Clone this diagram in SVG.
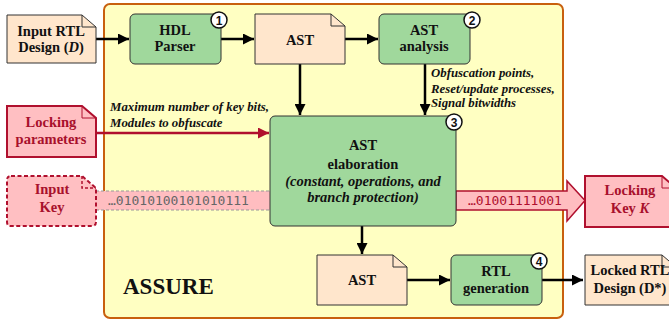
<svg xmlns="http://www.w3.org/2000/svg" width="669" height="326" viewBox="0 0 669 326">
<defs>
<style>
.t{font-family:"Liberation Serif","Times New Roman",serif;font-weight:bold;font-size:14.5px;fill:#111;text-anchor:middle}
.tr{fill:#A8102C}
.it{font-family:"Liberation Serif","Times New Roman",serif;font-weight:bold;font-style:italic;font-size:12.8px;fill:#111}
.doc{fill:#FFE6CC;stroke:#333;stroke-width:1}
.proc{fill:#A0D89C;stroke:#333;stroke-width:1}
.rdoc{fill:#FFBFC2;stroke:#B0102E;stroke-width:2}
.ear{fill:none;stroke:#333;stroke-width:1}
.bad{fill:#fff;stroke:#111;stroke-width:1.5}
.bn{font-family:"Liberation Sans",Arial,sans-serif;font-weight:bold;font-size:12px;text-anchor:middle;fill:#111}
.ar{stroke:#000;stroke-width:2.5;fill:none}
.mono{font-family:"DejaVu Sans Mono","Liberation Mono",monospace;font-size:13px}
</style>
<marker id="ah" viewBox="0 0 10 10" refX="10" refY="5" markerWidth="5" markerHeight="4.4" markerUnits="strokeWidth" orient="auto"><path d="M0,0L10,5L0,10z" fill="#000"/></marker>
<marker id="ahr" viewBox="0 0 10 10" refX="10" refY="5" markerWidth="5" markerHeight="4.4" markerUnits="strokeWidth" orient="auto"><path d="M0,0L10,5L0,10z" fill="#B0102E"/></marker>
</defs>

<g id="assure">
<rect x="104" y="4" width="459" height="314" rx="6" fill="#FFFFC2" stroke="#C8600E" stroke-width="2"/>
<text x="123" y="294" style="font-family:'Liberation Serif','Times New Roman',serif;font-weight:bold;font-size:23px;fill:#111">ASSURE</text>
</g>

<g id="keyband">
<rect x="96" y="191" width="174" height="19" fill="#FFBDC0"/>
<path d="M96,191H270M96,210H270" stroke="#999" stroke-width="1" stroke-dasharray="3,2"/>
<text x="108" y="204.5" class="mono" fill="#666">…01010100101010111</text>
</g>

<g id="keyout">
<path d="M456,191H567V181L585,200.5L567,221V210H456Z" fill="#FFBDC0" stroke="#B0102E" stroke-width="1.5"/>
<text x="468" y="205" class="mono" fill="#B0102E">…01001111001</text>
</g>

<g id="connectors">
<path class="ar" marker-end="url(#ah)" d="M96,39H129"/>
<path class="ar" marker-end="url(#ah)" d="M221,39H254"/>
<path class="ar" marker-end="url(#ah)" d="M345,39H378"/>
<path class="ar" marker-end="url(#ah)" d="M300,64V115"/>
<path class="ar" marker-end="url(#ah)" d="M425,64V115"/>
<path class="ar" marker-end="url(#ah)" d="M362,226V254"/>
<path class="ar" marker-end="url(#ah)" d="M407,280H450"/>
<path class="ar" marker-end="url(#ah)" d="M542,280H583"/>
<path stroke="#B0102E" stroke-width="2.5" fill="none" marker-end="url(#ahr)" d="M96,133H269"/>
<text class="it" x="110" y="111">Maximum number of key bits,</text>
<text class="it" x="110" y="127">Modules to obfuscate</text>
<text class="it" x="431" y="77">Obfuscation points,</text>
<text class="it" x="431" y="93">Reset/update processes,</text>
<text class="it" x="431" y="107">Signal bitwidths</text>
</g>

<g id="input-rtl">
<path class="doc" d="M7,15H82L96,27V63H7Z"/>
<path class="ear" d="M82,15V27H96"/>
<text class="t" x="51" y="36">Input RTL</text>
<text class="t" x="51" y="52">Design (<tspan font-style="italic">D</tspan>)</text>
</g>

<g id="hdl-parser">
<rect class="proc" x="130" y="14" width="91" height="50" rx="5"/>
<text class="t" x="175" y="35">HDL</text>
<text class="t" x="175" y="51">Parser</text>
<circle class="bad" cx="219" cy="20" r="8"/>
<text class="bn" x="219" y="24.5">1</text>
</g>

<g id="ast1">
<path class="doc" d="M255,14H331L345,26V64H255Z"/>
<path class="ear" d="M331,14V26H345"/>
<text class="t" x="300" y="45">AST</text>
</g>

<g id="ast-analysis">
<rect class="proc" x="379" y="14" width="91" height="50" rx="5"/>
<text class="t" x="424" y="35">AST</text>
<text class="t" x="424" y="51">analysis</text>
<circle class="bad" cx="472" cy="20" r="8"/>
<text class="bn" x="472" y="24.5">2</text>
</g>

<g id="locking-params">
<path class="rdoc" d="M7,106H82L96,118V157H7Z"/>
<path d="M82,106V118H96" fill="none" stroke="#B0102E" stroke-width="1"/>
<text class="t tr" x="51" y="127">Locking</text>
<text class="t tr" x="51" y="144">parameters</text>
</g>

<g id="input-key">
<path d="M11,176H82L96,188V222Q96,226 92,226H11Q7,226 7,222V180Q7,176 11,176Z" fill="#FFBFC2" stroke="#B0102E" stroke-width="2" stroke-dasharray="4,2.5"/>
<path d="M82,176V188H96" fill="none" stroke="#B0102E" stroke-width="1.5" stroke-dasharray="3,2"/>
<text class="t tr" x="52" y="194">Input</text>
<text class="t tr" x="52" y="212">Key</text>
</g>

<g id="ast-elaboration">
<rect class="proc" x="270" y="116" width="186" height="110" rx="5"/>
<text class="t" x="363" y="150" font-size="17">AST</text>
<text class="t" x="363" y="169" font-size="17">elaboration</text>
<text class="t" x="363" y="186" font-size="13" font-style="italic">(constant, operations, and</text>
<text class="t" x="363" y="202" font-size="13" font-style="italic">branch protection)</text>
<circle class="bad" cx="454" cy="122" r="8"/>
<text class="bn" x="454" y="126.5">3</text>
</g>

<g id="locking-key">
<path class="rdoc" d="M585,176H662L676,188V227H585Z"/>
<path d="M662,176V188H676" fill="none" stroke="#B0102E" stroke-width="1"/>
<text class="t tr" x="630" y="195">Locking</text>
<text class="t tr" x="630" y="213">Key <tspan font-style="italic">K</tspan></text>
</g>

<g id="ast2">
<path class="doc" d="M317,255H393L407,267V305H317Z"/>
<path class="ear" d="M393,255V267H407"/>
<text class="t" x="362" y="285">AST</text>
</g>

<g id="rtl-generation">
<rect class="proc" x="451" y="255" width="91" height="50" rx="5"/>
<text class="t" x="496" y="276">RTL</text>
<text class="t" x="496" y="293">generation</text>
<circle class="bad" cx="539" cy="261" r="8"/>
<text class="bn" x="539" y="265.5">4</text>
</g>

<g id="locked-rtl">
<path class="doc" d="M585,255H662L676,267V305H585Z"/>
<path class="ear" d="M662,255V267H676"/>
<text class="t" x="630" y="275">Locked RTL</text>
<text class="t" x="630" y="293">Design (D*)</text>
</g>
</svg>
